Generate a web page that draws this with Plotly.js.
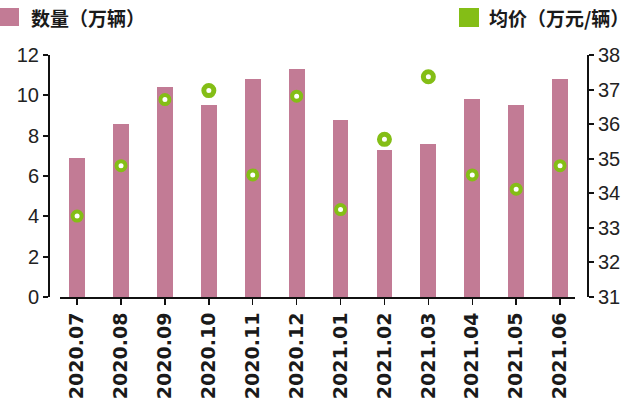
<!DOCTYPE html>
<html><head><meta charset="utf-8">
<script src="https://cdn.plot.ly/plotly-3.0.1.min.js"></script>
<style>html,body{margin:0;padding:0;background:#fff}#chart{width:640px;height:399px}</style>
</head><body><div id="chart"></div>
<script>
const months = ["2020.07","2020.08","2020.09","2020.10","2020.11","2020.12","2021.01","2021.02","2021.03","2021.04","2021.05","2021.06"];
const volume = [6.9, 8.6, 10.4, 9.5, 10.8, 11.3, 8.8, 7.3, 7.6, 9.8, 9.5, 10.8];
const avgPrice = [33.34, 34.80, 36.71, 36.97, 34.53, 36.81, 33.53, 35.56, 37.37, 34.53, 34.12, 34.80];
const highlighted = [false,false,false,true,false,false,false,true,true,false,false,false];
const leftTicks = [0,2,4,6,8,10,12];
const rightTicks = [31,32,33,34,35,36,37,38];
const seriesNames = ["数量（万辆）","均价（万元/辆）"];

const pink = "#C27B95", green = "#84BE16";
const tickFont = {family:"Liberation Sans, Arial, sans-serif", size:20, color:"#222"};

const traces = [
  {type:"bar", x:months, y:volume, name:seriesNames[0], marker:{color:pink}, width:0.36, showlegend:false, hoverinfo:"skip"},
  {type:"scatter", mode:"markers", x:months, y:avgPrice, name:seriesNames[1], yaxis:"y2", showlegend:false,
   marker:{color:"#fff", opacity:1, size:highlighted.map(h=>h?10:9), line:{color:green, width:highlighted.map(h=>h?5:4)}}}
];

const PW = 539, PH = 242, L = 49, T = 55;
const px = x => (x - L) / PW, py = y => (T + PH - y) / PH;

const layout = {
  width:640, height:399,
  margin:{l:L, r:640-L-PW, t:T, b:399-T-PH},
  paper_bgcolor:"#fff", plot_bgcolor:"#fff",
  bargap:0,
  xaxis:{type:"category", domain:[px(60),px(575)], range:[-0.39,11.34], showline:true, linecolor:"#111", linewidth:2,
    ticks:"outside", ticklen:6, tickwidth:1.5, tickcolor:"#111", tickangle:-90,
    tickfont:{family:"DejaVu Sans, sans-serif", size:19, color:"#1a1a1a", weight:"bold"},
    showgrid:false, zeroline:false},
  yaxis:{range:[0,12], tickvals:leftTicks, anchor:"free", position:0, showline:true, linecolor:"#111", linewidth:2,
    ticks:"outside", ticklen:5, tickwidth:2, tickcolor:"#111", tickfont:tickFont, showgrid:false, zeroline:false},
  yaxis2:{range:[31,38], tickvals:rightTicks, overlaying:"y", side:"right", anchor:"free", position:1, showline:true, linecolor:"#111", linewidth:2,
    ticks:"outside", ticklen:5, tickwidth:2, tickcolor:"#111", tickfont:tickFont, showgrid:false, zeroline:false},
  shapes:[
    {type:"rect", xref:"paper", yref:"paper", x0:px(0), x1:px(19), y0:py(26), y1:py(8), fillcolor:pink, line:{width:0}},
    {type:"rect", xref:"paper", yref:"paper", x0:px(459), x1:px(479), y0:py(27), y1:py(8), fillcolor:green, line:{width:0}}
  ],
  annotations:[
    {xref:"paper", yref:"paper", x:px(29), y:py(18), xanchor:"left", yanchor:"middle", showarrow:false,
     text:seriesNames[0], font:{family:"Noto Sans CJK SC, sans-serif", size:19, color:"#1a1a1a", weight:"bold"}},
    {xref:"paper", yref:"paper", x:px(487), y:py(18), xanchor:"left", yanchor:"middle", showarrow:false,
     text:seriesNames[1], font:{family:"Noto Sans CJK SC, sans-serif", size:19, color:"#1a1a1a", weight:"bold"}}
  ]
};
Plotly.newPlot("chart", traces, layout, {displayModeBar:false, staticPlot:true});
</script></body></html>
